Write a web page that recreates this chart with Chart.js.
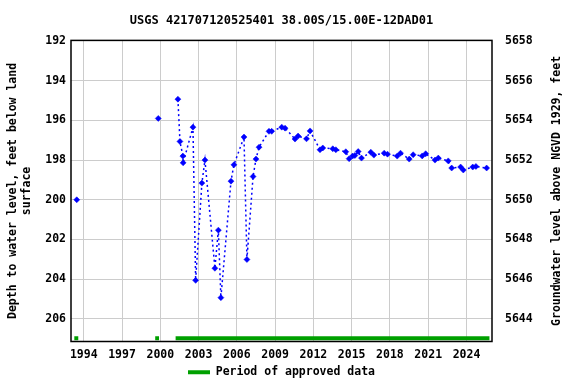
<!DOCTYPE html>
<html>
<head>
<meta charset="utf-8">
<script src="https://cdn.jsdelivr.net/npm/chart.js@4/dist/chart.umd.min.js"></script>
<style>
    html, body { margin: 0; padding: 0; background: #fff; }
    #wrap { width: 576px; height: 384px; }
</style>
</head>
<body>
<div id="wrap"><canvas id="levelChart" width="576" height="384"></canvas></div>
<script>
// DATA (decimal years, depth below land surface in feet)
var years = [1993.45, 1999.84, 2001.38, 2001.54, 2001.77, 2001.79, 2002.56, 2002.77, 2003.26, 2003.50,
    2004.28, 2004.55, 2004.75, 2005.54, 2005.77, 2006.56, 2006.79, 2007.27, 2007.50, 2007.74,
    2008.52, 2008.73, 2009.52, 2009.78, 2010.56, 2010.80, 2011.46, 2011.74, 2012.52, 2012.74,
    2013.52, 2013.76, 2014.54, 2014.80, 2015.07, 2015.25, 2015.51, 2015.77, 2016.50, 2016.74,
    2017.55, 2017.81, 2018.57, 2018.83, 2019.51, 2019.82, 2020.53, 2020.80, 2021.53, 2021.79,
    2022.57, 2022.84, 2023.54, 2023.75, 2024.49, 2024.74, 2025.58]
var depths = [200.00, 195.90, 194.93, 197.06, 197.80, 198.14, 196.34, 204.06, 199.16, 198.00,
    203.45, 201.53, 204.93, 199.06, 198.24, 196.84, 203.01, 198.83, 197.95, 197.35,
    196.55, 196.55, 196.34, 196.39, 196.94, 196.79, 196.93, 196.53, 197.48, 197.39,
    197.43, 197.48, 197.58, 197.93, 197.80, 197.77, 197.57, 197.90, 197.60, 197.75,
    197.65, 197.70, 197.80, 197.65, 197.95, 197.73, 197.79, 197.68, 198.00, 197.90,
    198.04, 198.40, 198.35, 198.50, 198.35, 198.32, 198.40]
// no line is drawn into these points
var lineBreaks = [1, 2]

var approvedStart = [1993.26, 1999.60, 2001.20]
var approvedEnd = [1993.57, 1999.90, 2025.80]
var approvedLevel = 206.98

var yearTicks = [1994, 1997, 2000, 2003, 2006, 2009, 2012, 2015, 2018, 2021, 2024]
var depthTicks = [192, 194, 196, 198, 200, 202, 204, 206]
var elevTicks = [5644, 5646, 5648, 5650, 5652, 5654, 5656, 5658]
var datum = 5850  // elevation = datum - depth

var titleText = "USGS 421707120525401 38.00S/15.00E-12DAD01"
var leftTitle = ["Depth to water level, feet below land", "surface"]
var rightTitle = "Groundwater level above NGVD 1929, feet"
var legendText = "Period of approved data"

var FONT = "'DejaVu Sans Mono', monospace"
var BLUE = "#0000ff"
var GREEN = "#00a000"

var depthMin = 191.97
var depthMax = 207.14

var levelPoints = years.map(function (y, i) { return { x: y, y: depths[i] } })
var approvedPoints = []
approvedStart.forEach(function (s, i) {
    approvedPoints.push({ x: s, y: approvedLevel })
    approvedPoints.push({ x: approvedEnd[i], y: approvedLevel })
})

// frame round the plot + right axis title (reads bottom to top)
var frame = {
    id: 'frame',
    afterDatasetsDraw: function (chart) {
        var a = chart.chartArea
        var ctx = chart.ctx
        ctx.save()
        ctx.strokeStyle = '#000'
        ctx.lineWidth = 1.5
        ctx.strokeRect(a.left, a.top, a.right - a.left, a.bottom - a.top)
        ctx.translate(chart.scales.y2.right - 19, (a.top + a.bottom) / 2)
        ctx.rotate(-Math.PI / 2)
        ctx.font = "bold 11.5px " + FONT
        ctx.fillStyle = '#000'
        ctx.textAlign = 'center'
        ctx.textBaseline = 'middle'
        ctx.fillText(rightTitle, 0, 0)
        ctx.restore()
    },
    afterLayout: function (chart) {
        chart.legend.top += 4
        chart.legend.bottom += 4
    }
}

var tickFont = { family: FONT, size: 11.5, weight: 'bold' }

new Chart(document.getElementById('levelChart'), {
    type: 'line',
    data: {
        datasets: [
            {
                label: 'levels',
                data: levelPoints,
                borderColor: BLUE,
                backgroundColor: BLUE,
                borderWidth: 1.5,
                borderDash: [2, 3],
                pointStyle: 'rectRot',
                pointRadius: 3,
                pointBorderWidth: 0.5,
                tension: 0,
                segment: {
                    borderColor: function (ctx) {
                        return lineBreaks.indexOf(ctx.p1DataIndex) >= 0 ? 'rgba(0,0,0,0)' : BLUE
                    }
                },
                yAxisID: 'y'
            },
            {
                label: legendText,
                data: approvedPoints,
                borderColor: GREEN,
                backgroundColor: GREEN,
                borderWidth: 4,
                borderCapStyle: 'butt',
                pointRadius: 0,
                segment: {
                    borderColor: function (ctx) {
                        return ctx.p0DataIndex % 2 === 1 ? 'rgba(0,0,0,0)' : GREEN
                    }
                },
                yAxisID: 'y'
            }
        ]
    },
    options: {
        responsive: false,
        animation: false,
        layout: { padding: 0 },
        scales: {
            x: {
                type: 'linear',
                min: 1993.0,
                max: 2026.0,
                afterBuildTicks: function (scale) {
                    scale.ticks = yearTicks.map(function (v) { return { value: v } })
                },
                afterFit: function (scale) { scale.height = 17 },
                grid: { color: '#cccccc', drawTicks: false },
                border: { display: false },
                ticks: {
                    padding: 7,
                    color: '#000',
                    font: tickFont,
                    maxRotation: 0,
                    callback: function (v) { return String(v) }
                }
            },
            y: {
                position: 'left',
                reverse: true,
                min: depthMin,
                max: depthMax,
                afterBuildTicks: function (scale) {
                    scale.ticks = depthTicks.map(function (v) { return { value: v } })
                },
                afterFit: function (scale) { scale.width = 71 },
                grid: { color: '#cccccc', drawTicks: false },
                border: { display: false },
                ticks: { padding: 5, color: '#000', font: tickFont },
                title: {
                    display: true,
                    text: leftTitle,
                    color: '#000',
                    font: tickFont,
                    padding: { top: 6, bottom: 0 }
                }
            },
            y2: {
                position: 'right',
                min: datum - depthMax,
                max: datum - depthMin,
                afterBuildTicks: function (scale) {
                    scale.ticks = elevTicks.map(function (v) { return { value: v } })
                },
                afterFit: function (scale) { scale.width = 84 },
                grid: { display: false, drawTicks: false },
                border: { display: false },
                ticks: {
                    padding: 13,
                    color: '#000',
                    font: tickFont,
                    callback: function (v) { return String(v) }
                }
            }
        },
        plugins: {
            title: {
                display: true,
                text: titleText,
                fullSize: false,
                color: '#000',
                font: { family: FONT, size: 12, weight: 'bold' },
                padding: { top: 14, bottom: 12 }
            },
            legend: {
                position: 'bottom',
                fullSize: false,
                labels: {
                    boxWidth: 22,
                    boxHeight: 4,
                    padding: 4,
                    color: '#000',
                    font: tickFont,
                    generateLabels: function () {
                        return [{
                            text: legendText,
                            fillStyle: GREEN,
                            strokeStyle: GREEN,
                            lineWidth: 0,
                            fontColor: '#000',
                            datasetIndex: 1
                        }]
                    }
                }
            },
            tooltip: { enabled: false }
        }
    },
    plugins: [frame]
})
</script>
</body>
</html>
